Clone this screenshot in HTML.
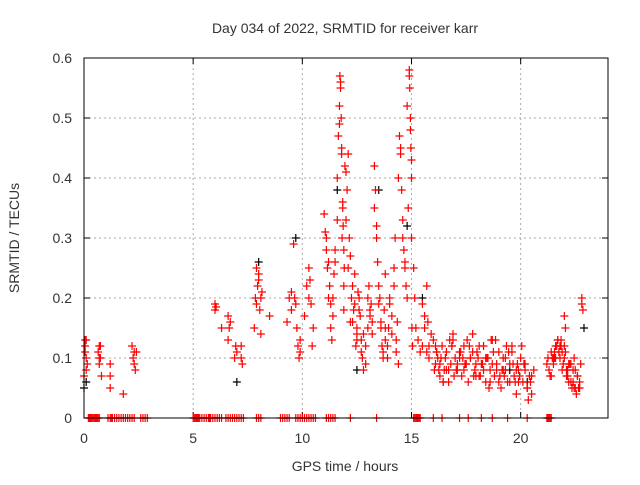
<!DOCTYPE html>
<html><head><meta charset="utf-8"><style>
body{margin:0;background:#fff;}
svg text{font-family:"Liberation Sans",sans-serif;font-size:14px;fill:#333;}
</style></head><body>
<svg id="chart" width="640" height="480">
<text x="345" y="33" text-anchor="middle">Day 034 of 2022, SRMTID for receiver karr</text>
<g id="grid"></g>
<g id="ticks"></g>
<g id="marks"></g>
<rect x="84" y="58" width="524" height="360" fill="none" stroke="#000" stroke-width="1"/>
<text x="345" y="471" text-anchor="middle">GPS time / hours</text>
<text transform="translate(19,238) rotate(-90)" text-anchor="middle">SRMTID / TECUs</text>
</svg>
<script>
const xTicks=[0,5,10,15,20];
const yTicks=[0,0.1,0.2,0.3,0.4,0.5,0.6];
const yTickLabels=["0","0.1","0.2","0.3","0.4","0.5","0.6"];
const zeroT=[0.2,0.25,0.3,0.35,0.4,0.45,0.5,0.55,0.6,0.65,0.7,1.1,1.2,1.25,1.3,1.4,1.5,1.6,1.7,1.8,1.9,2.0,2.1,2.2,2.3,2.6,2.7,2.8,2.9,5.0,5.05,5.1,5.15,5.2,5.25,5.3,5.4,5.5,5.6,5.7,5.75,5.8,5.9,6.0,6.1,6.2,6.3,6.5,6.6,6.7,6.8,6.9,7.0,7.1,7.2,7.3,7.9,8.0,8.1,9.0,9.1,9.2,9.3,9.4,9.7,9.8,9.9,10.0,10.1,10.2,10.3,10.4,10.5,10.6,11.1,11.2,11.3,11.4,11.5,12.2,13.4,15.1,15.15,15.2,15.25,15.3,15.35,15.4,16.0,16.4,17.2,17.6,18.2,18.7,19.4,20.3,21.2,21.25,21.3,21.35,21.4];
const redT=[0.0,0.05,0.1,0.1,0.05,0.15,0.65,0.7,0.75,0.8,0.7,1.2,1.2,1.2,1.8,2.2,2.25,2.3,2.35,2.4,
6.0,6.0,6.3,6.6,6.6,6.65,6.9,6.95,7.2,7.2,7.25,
7.8,7.85,7.9,7.95,8.0,8.05,8.1,8.15,8.5,
9.3,9.4,9.5,9.6,9.65,9.7,9.75,9.8,9.85,9.9,10.1,10.2,10.3,10.35,10.4,10.45,10.5,
11.0,11.05,11.1,11.15,11.2,11.25,11.3,11.35,11.4,11.45,11.5,
11.6,11.65,11.7,11.72,11.75,11.78,11.8,11.82,11.85,11.87,11.9,11.9,11.92,11.95,
12.0,12.05,12.1,12.15,12.2,12.25,12.3,12.35,12.4,12.45,12.5,12.5,12.55,
12.6,12.65,12.7,12.75,12.8,12.9,13.0,13.05,13.1,13.15,13.2,
13.3,13.35,13.4,13.45,13.5,13.55,13.6,13.65,13.7,13.75,13.8,13.8,
13.9,13.95,14.0,14.1,14.2,14.25,14.3,14.35,14.4,
14.45,14.5,14.55,14.6,14.65,14.7,14.75,14.8,14.85,14.9,14.92,14.95,14.97,15.0,15.0,15.02,15.05,
15.1,15.15,15.2,15.3,15.4,15.5,15.6,15.7,15.75,15.8,15.9,16.0,
16.1,16.2,16.3,16.4,16.5,16.6,16.7,16.8,16.9,17.0,17.1,17.2,17.3,17.4,17.5,17.6,17.7,17.8,17.9,18.0,18.1,18.2,18.3,18.4,18.5,18.6,18.7,18.8,18.9,19.0,19.1,19.2,19.3,19.4,19.5,19.6,19.7,19.8,19.9,20.0,20.1,20.2,20.3,20.4,20.5,20.6,
16.15,16.45,16.75,17.05,17.35,17.65,17.95,18.25,18.55,18.85,19.15,19.45,19.75,20.05,20.35,
16.25,16.85,17.45,18.05,18.65,19.25,19.85,20.45,
21.2,21.3,21.4,21.5,21.6,21.7,21.8,21.9,22.0,22.1,22.2,22.3,22.4,22.5,22.6,22.7,
21.35,21.55,21.75,21.95,22.15,22.35,22.55,21.45,21.65,21.85,22.05,22.25,22.45,22.65,
22.0,22.05,22.75,22.8,22.8,22.85];
const redV=[0.07,0.12,0.1,0.08,0.13,0.09,0.11,0.09,0.1,0.07,0.12,0.09,0.07,0.05,0.04,0.12,0.1,0.09,0.08,0.11,
0.18,0.19,0.15,0.17,0.13,0.15,0.1,0.12,0.12,0.1,0.09,
0.15,0.2,0.25,0.22,0.23,0.18,0.14,0.21,0.17,
0.16,0.2,0.21,0.29,0.2,0.19,0.15,0.12,0.1,0.13,0.17,0.22,0.25,0.23,0.19,0.12,0.15,
0.34,0.31,0.28,0.25,0.2,0.22,0.15,0.13,0.17,0.24,0.26,
0.4,0.47,0.52,0.57,0.55,0.5,0.45,0.3,0.36,0.32,0.22,0.18,0.25,0.42,
0.41,0.38,0.44,0.3,0.27,0.2,0.16,0.18,0.24,0.12,0.15,0.14,0.21,
0.2,0.17,0.13,0.1,0.08,0.12,0.15,0.22,0.18,0.19,0.16,
0.42,0.38,0.32,0.26,0.22,0.2,0.15,0.12,0.1,0.18,0.24,0.13,
0.12,0.15,0.2,0.17,0.22,0.3,0.13,0.16,0.09,
0.47,0.45,0.38,0.33,0.28,0.25,0.22,0.2,0.35,0.58,0.55,0.5,0.45,0.4,0.3,0.15,0.12,
0.25,0.2,0.15,0.13,0.11,0.12,0.17,0.22,0.16,0.1,0.14,0.13,
0.09,0.1,0.07,0.12,0.08,0.11,0.06,0.09,0.13,0.1,0.08,0.11,0.07,0.12,0.09,0.06,0.1,0.14,0.08,0.11,0.07,0.09,0.12,0.06,0.1,0.08,0.13,0.07,0.09,0.11,0.05,0.08,0.1,0.06,0.09,0.12,0.07,0.04,0.08,0.1,0.06,0.09,0.05,0.07,0.04,0.08,
0.11,0.06,0.13,0.08,0.1,0.12,0.07,0.09,0.05,0.13,0.08,0.11,0.06,0.12,0.03,
0.08,0.12,0.09,0.1,0.13,0.07,0.09,0.06,
0.09,0.08,0.11,0.1,0.12,0.13,0.1,0.08,0.12,0.07,0.09,0.06,0.08,0.05,0.07,0.06,
0.07,0.1,0.11,0.09,0.08,0.05,0.04,0.1,0.12,0.13,0.11,0.09,0.1,0.05,
0.17,0.15,0.09,0.19,0.2,0.18];
const red2T=[0.05,0.1,0.7,0.75,2.3,6.05,6.7,7.0,7.9,8.0,8.1,9.5,9.9,10.3,
11.1,11.2,11.3,11.4,11.5,11.6,11.7,11.75,11.8,11.85,11.9,12.0,12.1,12.2,12.3,12.4,12.5,12.6,12.7,12.8,12.9,13.0,13.1,13.2,13.3,13.4,13.5,13.6,13.7,13.8,13.9,14.0,14.1,14.2,14.3,14.4,14.5,14.6,14.7,14.8,14.9,14.95,15.0,15.5,15.6,15.7,15.8,
16.05,16.15,16.3,16.45,16.55,16.7,16.85,16.95,17.1,17.25,17.4,17.55,17.7,17.85,17.95,18.1,18.3,18.45,18.6,18.75,18.9,19.05,19.2,19.35,19.5,19.65,19.8,19.95,20.15,20.3,20.5,
16.1,16.35,16.6,16.9,17.2,17.5,17.8,18.15,18.4,18.7,19.0,19.3,19.6,19.9,20.2,
21.25,21.4,21.55,21.7,21.85,22.0,22.15,22.3,22.45,22.6,21.5,21.8,22.1,22.4,22.7,21.6,21.9,22.2,22.5];
const red2V=[0.11,0.13,0.1,0.12,0.11,0.185,0.16,0.11,0.19,0.24,0.2,0.18,0.11,0.2,
0.3,0.26,0.19,0.2,0.28,0.33,0.49,0.56,0.44,0.35,0.28,0.33,0.25,0.16,0.22,0.19,0.13,0.18,0.11,0.14,0.09,0.2,0.17,0.14,0.35,0.3,0.19,0.16,0.11,0.15,0.1,0.19,0.14,0.25,0.11,0.4,0.44,0.3,0.26,0.52,0.57,0.48,0.43,0.19,0.15,0.11,0.12,
0.08,0.11,0.09,0.06,0.1,0.08,0.12,0.07,0.09,0.11,0.08,0.13,0.1,0.07,0.09,0.12,0.08,0.1,0.06,0.11,0.08,0.07,0.1,0.12,0.06,0.09,0.08,0.07,0.09,0.05,0.07,
0.12,0.1,0.08,0.14,0.1,0.09,0.11,0.07,0.1,0.09,0.06,0.08,0.11,0.06,0.08,
0.1,0.07,0.11,0.13,0.12,0.1,0.07,0.09,0.05,0.07,0.09,0.12,0.08,0.06,0.05,0.1,0.11,0.06,0.08];
const blackT=[0.0,0.1,7.0,8.0,9.7,11.6,12.5,13.5,14.8,15.5,22.9,19.5,20.3];
const blackV=[0.05,0.06,0.06,0.26,0.3,0.38,0.08,0.38,0.32,0.2,0.15,0.08,0.06];
const NS="http://www.w3.org/2000/svg";
const x=t=>84+t*(524/24), y=v=>418-v*600;
const grid=document.getElementById('grid'),ticks=document.getElementById('ticks'),marks=document.getElementById('marks');
function ln(p,x1,y1,x2,y2,st,dash){const l=document.createElementNS(NS,'line');l.setAttribute('x1',x1);l.setAttribute('y1',y1);l.setAttribute('x2',x2);l.setAttribute('y2',y2);l.setAttribute('stroke',st);if(dash)l.setAttribute('stroke-dasharray',dash);p.appendChild(l);return l;}
function tx(s,X,Y,a){const t=document.createElementNS(NS,'text');t.setAttribute('x',X);t.setAttribute('y',Y);t.setAttribute('text-anchor',a);t.textContent=s;ticks.appendChild(t);return t;}
xTicks.forEach(v=>{const X=x(v);if(v>0){const g=ln(grid,X,58,X,418,'#aaa','2,3');

}
ln(ticks,X,418,X,412,'#000');ln(ticks,X,58,X,64,'#000');
const t=tx(String(v),X,443,'middle');

});
yTicks.forEach((v,i)=>{const Y=y(v);if(v>0&&v<0.6){const g=ln(grid,84,Y,608,Y,'#aaa','2,3');

}
ln(ticks,84,Y,90,Y,'#000');ln(ticks,608,Y,602,Y,'#000');
const t=tx(yTickLabels[i],72,Y+5,'end');

});
function cross(t,v,c,name){const p=document.createElementNS(NS,'path');const X=x(t),Y=y(v);
p.setAttribute('d',`M${X-4},${Y}h8M${X},${Y-4}v8`);p.setAttribute('stroke',c);p.setAttribute('stroke-width','1.2');


marks.appendChild(p);}
blackT.forEach((t,i)=>cross(t,blackV[i],'#000','black-point'));
redT.forEach((t,i)=>cross(t,redV[i],'#f00','red-point'));
red2T.forEach((t,i)=>cross(t,red2V[i],'#f00','red-point'));
zeroT.forEach(t=>cross(t,0,'#f00','zero-point'));
</script>
</body></html>
